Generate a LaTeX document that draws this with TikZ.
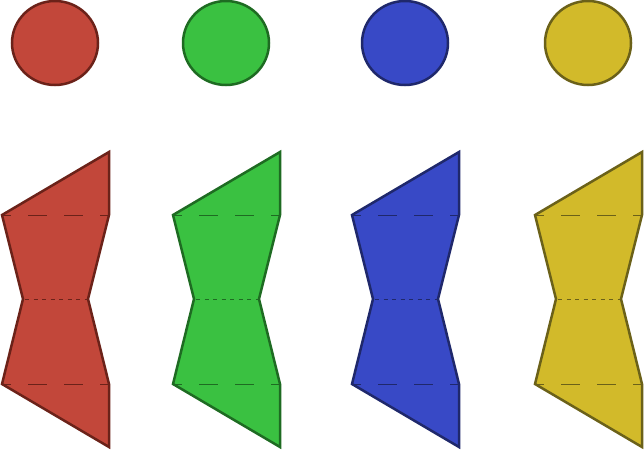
\documentclass[tikz,border=0pt]{standalone}
\definecolor{redF}{HTML}{C2473A}\definecolor{redS}{HTML}{6B2219}
\definecolor{greenF}{HTML}{3AC141}\definecolor{greenS}{HTML}{1E6B22}
\definecolor{blueF}{HTML}{3849C6}\definecolor{blueS}{HTML}{1F286B}
\definecolor{yellowF}{HTML}{D2BA2A}\definecolor{yellowS}{HTML}{6B6119}
\tikzset{
  shapeline/.style={line width=2.5pt, line join=miter},
  foldlong/.style={line width=1pt, dash pattern=on 19pt off 17pt, dash phase=10pt},
  foldshort/.style={line width=1pt, dash pattern=on 4pt off 4.5pt, dash phase=-2pt},
}
\begin{document}
\begin{tikzpicture}[x=1pt,y=-1pt]
\useasboundingbox (0,0) rectangle (644,453);
\foreach \ox/\c in {0/red,171/green,350/blue,533/yellow}{
  \begin{scope}[xshift=\ox pt]
    \draw[shapeline, fill=\c F, draw=\c S] (55,43) ellipse [x radius=43, y radius=42];
    \draw[shapeline, fill=\c F, draw=\c S]
      (109,152) -- (2,215) -- (23,299) -- (2,384) -- (109,447) -- (109,384) -- (88,299) -- (109,215) -- cycle;
    \draw[foldlong, draw=\c S] (2,215) -- (109,215);
    \draw[foldlong, draw=\c S] (2,384) -- (109,384);
    \draw[foldshort, draw=\c S] (23,299) -- (88,299);
  \end{scope}
}
\end{tikzpicture}
\end{document}
